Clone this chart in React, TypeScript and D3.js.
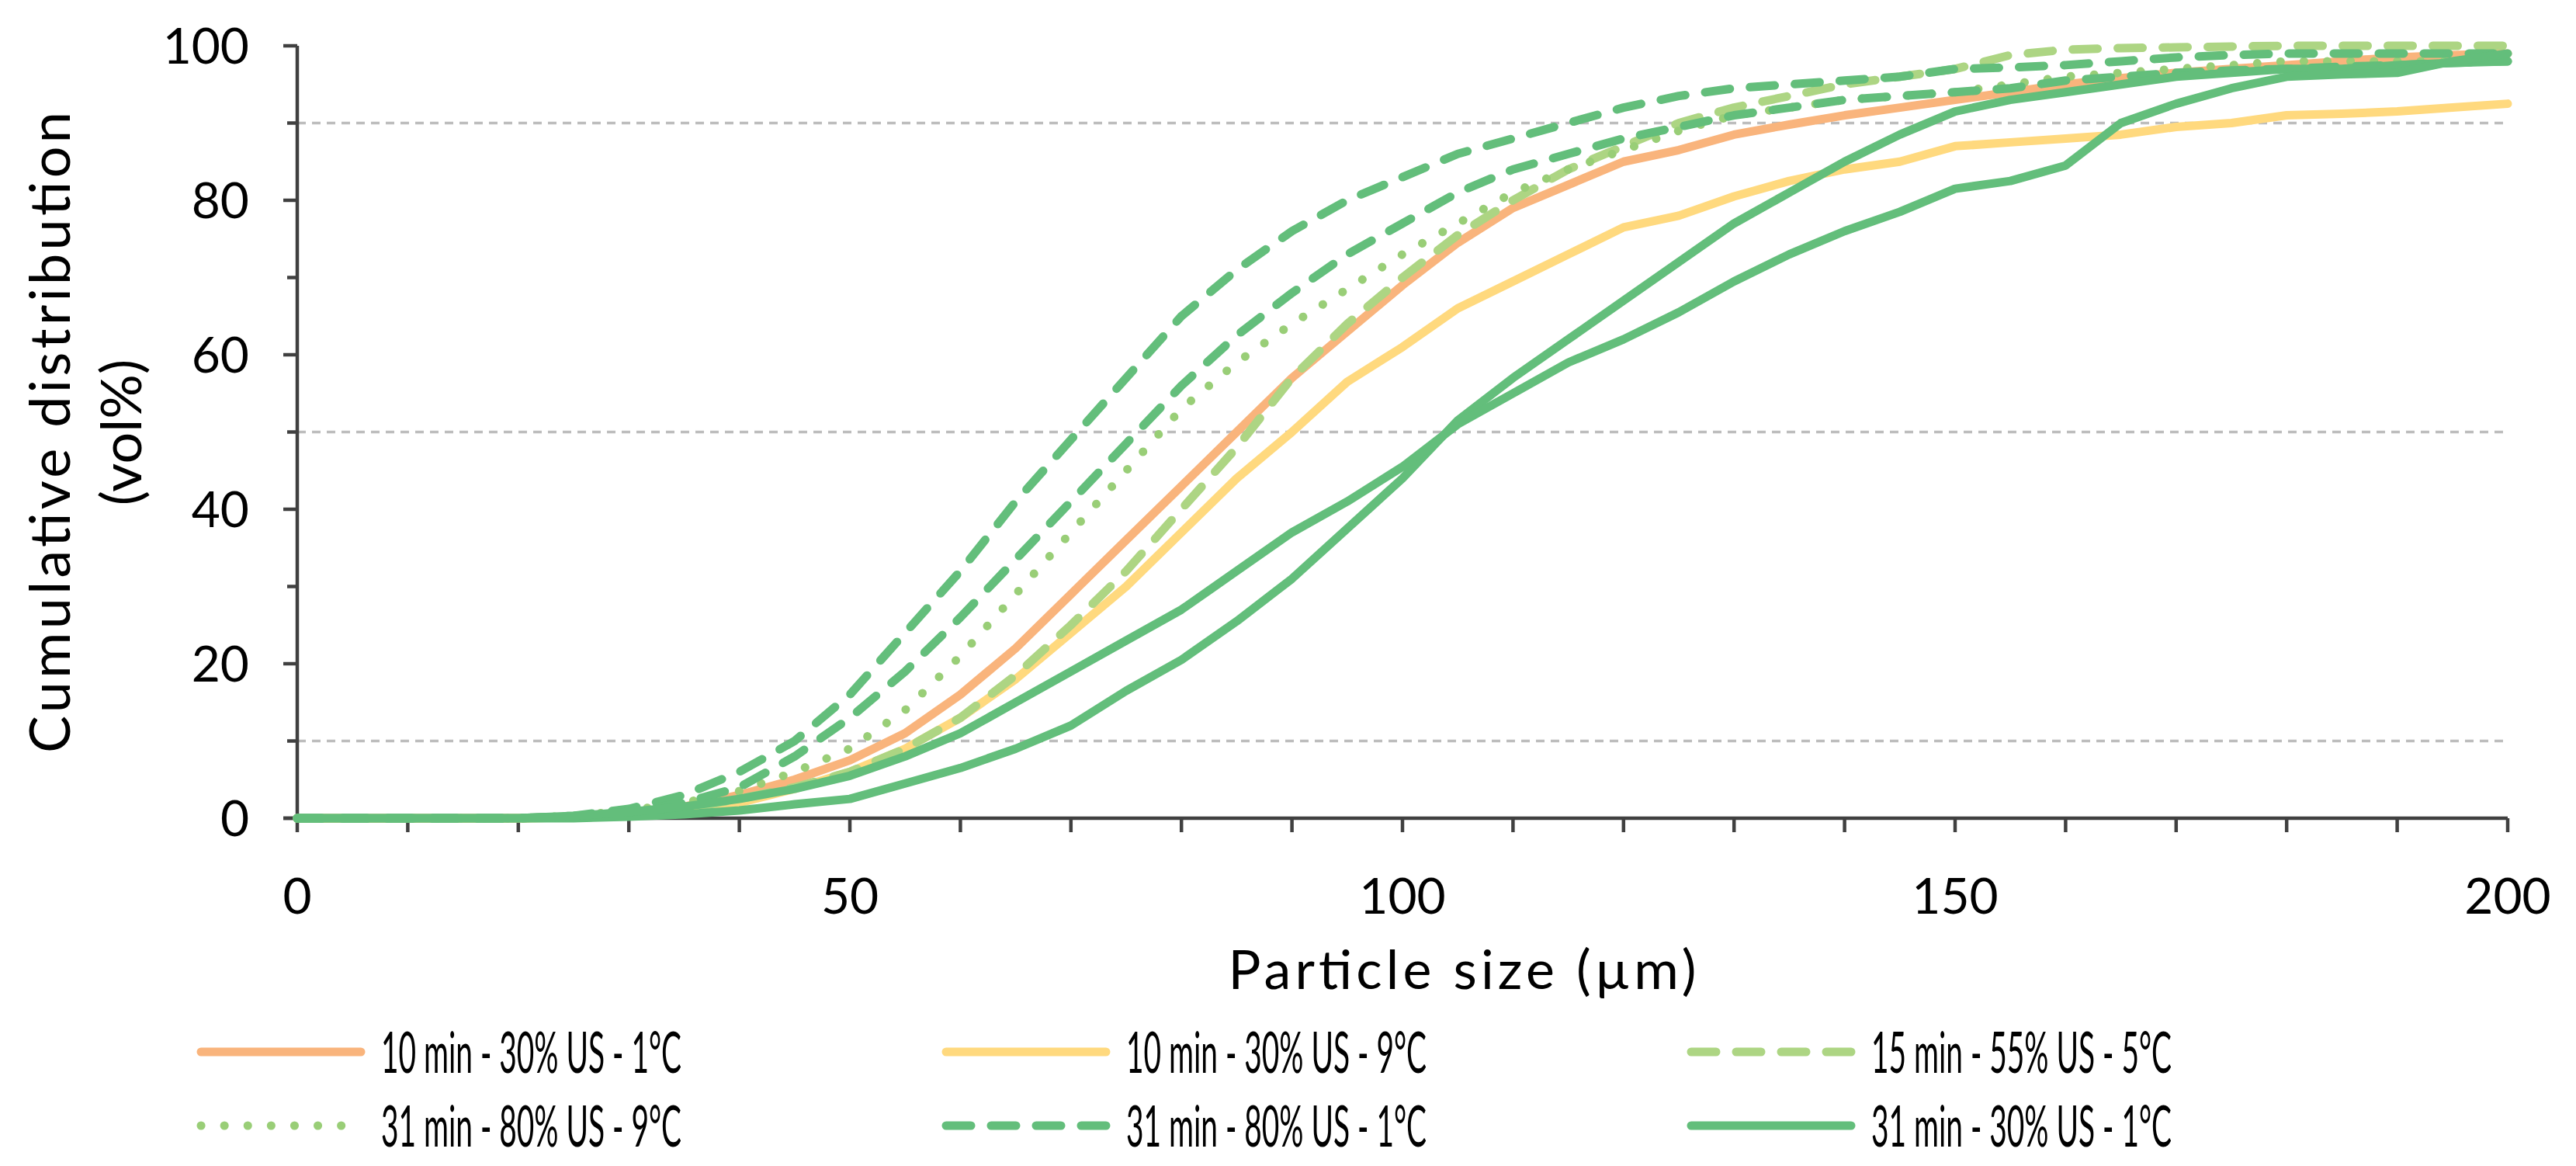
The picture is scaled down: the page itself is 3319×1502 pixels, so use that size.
import React from "react";
import * as d3 from "d3";

// particle size bins (µm)
const sizes = [0, 10, 20, 25, 30, 35, 40, 45, 50, 55, 60, 65, 70, 75, 80, 85, 90, 95, 100, 105, 110, 115, 120, 125, 130, 135, 140, 145, 150, 155, 160, 165, 170, 175, 180, 185, 190, 195, 200];

// cumulative distribution (vol%)
const m10us30t1 = [0, 0, 0, 0.2, 0.6, 1.5, 3, 5, 7.5, 11, 16, 22, 29, 36, 43, 50, 57, 63, 69, 74.5, 79, 82, 85, 86.5, 88.5, 89.8, 91, 92, 93, 94, 95, 95.8, 96.5, 97, 97.5, 98, 98.5, 98.8, 99];
const m10us30t9 = [0, 0, 0, 0.1, 0.4, 1, 2, 3.8, 6, 9, 13, 18, 24, 30, 37, 44, 50, 56.5, 61, 66, 69.5, 73, 76.5, 78, 80.5, 82.5, 84, 85, 87, 87.5, 88, 88.5, 89.5, 90, 91, 91.2, 91.5, 92, 92.5];
const m15us55t5 = [0, 0, 0, 0.1, 0.5, 1.2, 2.5, 4, 6, 9, 13, 18.5, 25, 32, 40, 48, 57, 64, 70, 75.5, 80, 84, 87, 90, 92, 93.5, 95, 96, 97, 98.8, 99.5, 99.7, 99.8, 99.9, 100, 100, 100, 100, 100];
const m31us80t9 = [0, 0, 0, 0.3, 1, 2, 3.5, 6, 9, 14, 21, 29, 37, 45, 53, 59, 64, 68.5, 73, 77, 81, 84, 86.5, 89, 91, 92, 93, 93.5, 94, 95, 96, 96.5, 97, 97.5, 98, 98, 98, 98, 98];
const m31us80t1a = [0, 0, 0, 0.3, 1.2, 3, 6, 10, 16, 24, 32, 41, 49, 57, 65, 71, 76, 80, 83, 86, 88, 90, 92, 93.5, 94.5, 95, 95.5, 96, 97, 97.2, 97.5, 98, 98.5, 98.8, 99, 99, 99, 99, 99];
const m31us80t1b = [0, 0, 0, 0.2, 0.8, 2, 4, 8, 13, 19, 26, 33.5, 41, 48.5, 56, 62.5, 68, 73, 77, 81, 84, 86, 88, 89.5, 91, 92, 93, 93.5, 94, 94.5, 95.5, 96, 96.5, 96.8, 97, 97.3, 97.5, 97.8, 98];
const m31us30t1a = [0, 0, 0, 0, 0.2, 0.5, 1, 1.8, 2.5, 4.5, 6.5, 9, 12, 16.5, 20.5, 25.5, 31, 37.5, 44, 51.5, 57, 62, 67, 72, 77, 81, 85, 88.5, 91.5, 93, 94, 95, 96, 96.5, 97, 97, 97.5, 97.8, 98];
const m31us30t1b = [0, 0, 0, 0.3, 0.8, 1.5, 2.5, 3.8, 5.5, 8, 11, 15, 19, 23, 27, 32, 37, 41, 45.5, 51, 55, 59, 62, 65.5, 69.5, 73, 76, 78.5, 81.5, 82.5, 84.5, 90, 92.5, 94.5, 96, 96.3, 96.5, 98, 99];

const legendLabels = [
  "10 min - 30% US - 1°C",
  "10 min - 30% US - 9°C",
  "15 min - 55% US - 5°C",
  "31 min - 80% US - 9°C",
  "31 min - 80% US - 1°C",
  "31 min - 30% US - 1°C",
];

const yTicks = [0, 20, 40, 60, 80, 100];
const yMinor = [10, 30, 50, 70, 90];
const xLabels = [0, 50, 100, 150, 200];
const xTicks = d3.range(0, 201, 10);
const gridLevels = [10, 50, 90];

// styles per legend entry
const styles = [
  { color: "#F9B47C", dash: null },
  { color: "#FFD97E", dash: null },
  { color: "#ADD583", dash: "32 26" },
  { color: "#99CE77", dash: "0.1 30" },
  { color: "#63BE7B", dash: "32 26" },
  { color: "#63BE7B", dash: null },
];

const series = [
  { values: m10us30t1, key: 0 },
  { values: m10us30t9, key: 1 },
  { values: m15us55t5, key: 2 },
  { values: m31us80t9, key: 3 },
  { values: m31us80t1a, key: 4 },
  { values: m31us80t1b, key: 4 },
  { values: m31us30t1a, key: 5 },
  { values: m31us30t1b, key: 5 },
];

const W = 3319;
const H = 1502;
const left = 383;
const right = 3231;
const top = 59;
const bottom = 1054;
const font = "Lato, 'Open Sans', sans-serif";
const axisColor = "#404040";

const App = () => {
  const x = d3.scaleLinear().domain([0, 200]).range([left, right]);
  const y = d3.scaleLinear().domain([0, 100]).range([bottom, top]);

  const line = d3
    .line<number>()
    .x((_, i) => x(sizes[i]))
    .y((d) => y(d));

  return (
    <svg
      width={W}
      height={H}
      viewBox={`0 0 ${W} ${H}`}
      style={{ position: "absolute", left: 0, top: 0, background: "#fff" }}
      fontFamily={font}
    >
      {/* gridlines */}
      {gridLevels.map((g) => (
        <line
          key={"g" + g}
          x1={x(0)}
          x2={x(200)}
          y1={y(g)}
          y2={y(g)}
          stroke="#BDBDBD"
          strokeWidth={3.5}
          strokeDasharray="11 8"
        />
      ))}

      {/* axes */}
      <line x1={x(0)} x2={x(0)} y1={y(0)} y2={y(100)} stroke={axisColor} strokeWidth={4.5} />
      <line x1={x(0) - 18} x2={x(200)} y1={y(0)} y2={y(0)} stroke={axisColor} strokeWidth={4.5} />
      {yTicks.map((t) => (
        <line key={"yt" + t} x1={x(0) - 18} x2={x(0)} y1={y(t)} y2={y(t)} stroke={axisColor} strokeWidth={4.5} />
      ))}
      {yMinor.map((t) => (
        <line key={"ym" + t} x1={x(0) - 13} x2={x(0)} y1={y(t)} y2={y(t)} stroke={axisColor} strokeWidth={4.5} />
      ))}
      {xTicks.map((t) => (
        <line key={"xt" + t} x1={x(t)} x2={x(t)} y1={y(0)} y2={y(0) + 18} stroke={axisColor} strokeWidth={4.5} />
      ))}
      {yTicks.map((t) => (
        <text key={"yl" + t} x={x(0) - 62} y={y(t)} dy="0.36em" textAnchor="end" fontSize={64} fill="#000">
          {t}
        </text>
      ))}
      {xLabels.map((t) => (
        <text key={"xl" + t} x={x(t)} y={1177} textAnchor="middle" fontSize={64} fill="#000">
          {t}
        </text>
      ))}

      {/* axis titles */}
      <text x={1884} y={1274} textAnchor="middle" fontSize={70} fill="#000" textLength={603} lengthAdjust="spacing">
        Particle size (µm)
      </text>
      <g transform={`translate(90,557) rotate(-90)`}>
        <text x={0} y={0} textAnchor="middle" fontSize={72} fill="#000" textLength={826} lengthAdjust="spacing">
          Cumulative distribution
        </text>
        <text x={0} y={92} textAnchor="middle" fontSize={72} fill="#000">
          (vol%)
        </text>
      </g>

      {/* curves */}
      {series.map((s, i) => {
        const st = styles[s.key];
        return (
          <path
            key={"s" + i}
            d={line(s.values) || ""}
            fill="none"
            stroke={st.color}
            strokeWidth={11}
            strokeLinecap="round"
            strokeLinejoin="round"
            strokeDasharray={st.dash || undefined}
          />
        );
      })}

      {/* legend */}
      {legendLabels.map((lab, i) => {
        const col = i % 3;
        const row = Math.floor(i / 3);
        const lx = 254 + col * 960;
        const ly = 1355 + row * 95;
        const st = styles[i];
        return (
          <g key={"lg" + i}>
            <line
              x1={lx + 5}
              x2={lx + 211}
              y1={ly}
              y2={ly}
              stroke={st.color}
              strokeWidth={11}
              strokeLinecap="round"
              strokeDasharray={st.dash || undefined}
            />
            <text
              x={lx + 237}
              y={ly}
              dy="0.36em"
              fontSize={74}
              fill="#000"
              textLength={387}
              lengthAdjust="spacingAndGlyphs"
            >
              {lab}
            </text>
          </g>
        );
      })}
    </svg>
  );
};

export default App;
